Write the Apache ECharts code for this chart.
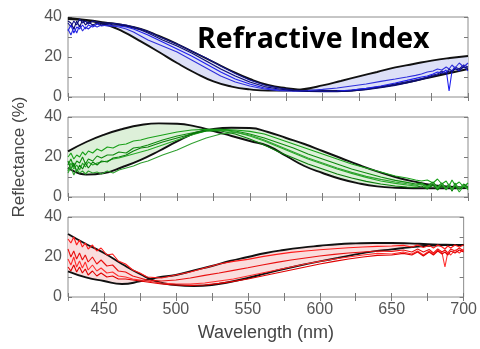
<!DOCTYPE html>
<html><head><meta charset="utf-8">
<script src="https://cdn.jsdelivr.net/npm/echarts@6/dist/echarts.min.js"></script>
<style>html,body{margin:0;padding:0;background:#fff}#c{width:480px;height:349px}</style>
</head><body><div id="c"></div>
<script>
// Envelope (model) curves grid, nm
const wlModel = [425,437.5,450,462.5,475,487.5,500,512.5,525,537.5,550,562.5,575,587.5,600,612.5,625,637.5,650,662.5,675,687.5,700];
// Panel 1 (blue) envelope curves
const blueA = [39,38.2,36.5,32.8,27.8,22.5,17,12,7.8,5.2,3.8,3.2,3.2,4,5.8,8,10.3,12.5,14.8,16.5,18.2,19.5,20.5];
const blueB = [39.5,38.5,37.3,36,34,30.5,26.5,22,17.5,13,9,6,4.4,3.5,3,3,3.6,4.8,6.3,8,10,12,14];
// Panel 2 (green) envelope curves
const greenC = [22.8,27.5,31.2,34,36,36.8,36.6,35.3,33,30.5,28,25.5,20.5,15.5,12,9,6.8,5.3,4.6,4.4,4.4,4.4,4.5];
const greenD = [14.6,11.2,12,15,18.6,23,27.8,32,34,34.6,34.5,32.5,29.5,26.5,23,19.5,16,12.8,10,7.8,6,5.2,4.7];
// Panel 3 (red) envelope curves
const redE = [31.5,26.5,22,16.5,11.5,7.5,6,5.5,6,7.5,9.5,11.8,14,16,17.8,19.5,21.3,22.8,23.8,24.8,25.6,26,26];
const redF = [12.8,9.8,8,6.5,7.8,9.8,11,13.3,15.5,18,20,22,23.5,24.7,25.6,26.4,26.8,27,27,26.8,26.4,26.1,26];

// Measured spectra wavelength grid, nm
const wlMeas = [425,427,429,431,433,435,437,439,442,445, 448,452,456,460,465,470,475,480,490,500, 510,520,530,540,550,560,570,580,590,600, 610,620,630,640,650,658,664,668,672,676, 679,682,685,687,689,691,694,697,700];
const blue1 = [37,35,38,36,39,37,38,36.5,38,37.5, 37,37,36.8,36.5,36,35,34,32.8,29.5,26.5, 23,19.5,15.5,11.8,8.5,6,4.5,3.5,3,2.8, 2.8,3.2,4,5,6.3,7.5,8.5,9.2,10,11, 11.5,13,12,14,13,15,14,16,15];
const blue2 = [33,36,32,35,34,36,34,36,35,36.5, 35.5,36,35.5,35.5,35,34,32.5,31,27.5,24, 20.5,16.5,12.5,9,6.5,4.5,3.5,3,2.8,2.8, 3,3.5,4.3,5.5,7,8.3,9.3,10,10.5,11.5, 12.5,12,13.5,3,13,14.5,13,15.5,13];
const blue3 = [34,31,35,32,36,33,35,34,36,35, 36,35.5,35.5,35,34,32.5,30.5,28.5,25.5,22.5, 18.5,14.5,10.5,7.5,5.5,4,3.2,3,3.2,3.8, 4.5,5.5,6.5,7.8,9,10,10.8,11.5,12.5,13, 14,13.5,15,14,16,14.5,17,15,17];
const blue4 = [38,37,34,38,35,38.5,36,37.5,36,37, 36,36.8,36,36,35.5,34.5,33.5,32,28.5,25.5, 22,18,14,10.5,7.5,5.2,4,3.2,2.8,2.6, 2.6,3,3.6,4.6,5.8,7,8,8.8,9.5,10.5, 11,12,11.5,13,12.5,14,13.5,15,14.5];
const green1 = [20,22,19,21,20,22.5,21,23,22,24, 23,25,24.5,26,26.5,28,28.5,29.5,31,32.5, 33.5,33.8,33.8,33.5,32.8,31.5,29,26.5,24,21.5, 19,16.5,14.5,12.5,10.5,9.5,8.5,8,8.5,7, 9,6.5,8,5.5,8.5,6,7.5,5,7];
const green2 = [16,19,15,18,17,20,16.5,19,18,20.5, 19.5,21,21,22.5,22,24.5,25,26,28.5,30.5, 32,33.3,33.6,33,31.5,29.5,27,24.5,21.5,19, 16.5,14,12,10,8.3,7.3,6.5,7,5.5,7.5, 5,7,4.5,6.5,3,7,4,6,4.5];
const green3 = [13,17,14,16,13.5,17,15,17.5,16,17, 17.5,18,19,19.5,20.5,21.5,22.5,23.5,26,28.5, 31,33,33.5,32.5,30.5,28,25,22,19,16.5, 14,11.8,9.8,8,6.8,6,5.5,6.5,4.5,6, 4,6.5,3.5,5.5,4,6,2.5,5.5,4];
const green4 = [18,14,17,12.5,16,14,17,14.5,17.5,16, 18,17.5,19.5,20,21,23,24.5,25,27.5,29.5, 31.5,33,33,31.5,29,26,22.5,19.5,16.5,14, 11.5,9.5,7.8,6.5,5.5,5,4.8,5.5,4,6, 3.5,5.5,4,6,3,5.5,4,6.5,5];
const green5 = [12,15,11,14,12,13,11.5,13,12,12.5, 11.5,13,12,13.5,14.5,15.5,17,18,21,23.5, 26.8,29.5,31.5,32.3,31,28.5,25.5,22.5,19.5,17, 14.5,12.3,10.3,8.8,7.5,6.6,6,6.5,5,7, 4.5,6.5,4,6.5,3.5,6,4.5,6,3.5];
const red1 = [29,27,30,26,28.5,25,27,24,26,23, 24.5,21,21.5,18,16.5,13.5,12,10,9.5,11, 12.5,14.5,16.5,17.8,18.8,20.2,21.3,22.3,23,23.6, 24.1,24.6,25,25.3,25.5,25.8,25,26,24.8,25.8, 24.5,26,25,24,25.5,24.5,26,25,26];
const red2 = [24,20,23,19,22,18.5,21,17.5,20,16.5, 18.5,15.5,16,13,12.5,10.5,9.5,8.5,8,8.5, 9.5,10.8,12,13.3,14.6,16,17.3,18.5,19.5,20.5, 21.3,22,22.5,23,22.8,23.5,22.5,24,22.5,23.8, 22,24,22.5,23.5,22,24,23,24.5,23];
const red3 = [19,16,20,15,18,14.5,17.5,13.5,16,13, 14.5,12,12.5,10.5,10,9,8.5,8,7,6.5, 6.5,7,8,9,10.5,12,13.5,15,16.5,17.8, 19,20,21,21.8,21.5,22.5,21.5,23,21,23, 21.5,23.5,22,15,22.5,21,23.5,22,24];
const red4 = [15,13,16,12.5,15,12,14,11,13,10.5, 12,10,10.5,9,9,8.5,8,7.5,6.5,6, 5.8,6,6.8,7.8,9,10.5,12,13.5,15,16.5, 17.8,19,20,20.8,21,21.8,21,22.5,20.5,22.5, 21,23,21.5,22.5,21,23,22,23.5,22.5];

const xTicks = {min:425, max:700, step:25, labelStep:50};
const yTicks = {min:0, max:40, step:10, labelStep:20};

const panels = [
  {env:[blueA, blueB], fill:'#dde0f7', lines:[blue1,blue2,blue3,blue4], colors:['#12128c','#1f1fee','#2f2fdc','#0c0c72']},
  {env:[greenC, greenD], fill:'#ddf0d9', lines:[green1,green2,green3,green4,green5], colors:['#18a018','#0e8a0e','#26aa26','#0a7d0a','#30a030']},
  {env:[redE, redF], fill:'#fadddd', lines:[red1,red2,red3,red4], colors:['#ff1a1a','#e81010','#ff2e2e','#e00000']}
];
const tops = [17,117,217];
const FONT = 'Liberation Sans, Arial, sans-serif';

const grid=[], xAxis=[], yAxis=[], series=[];
panels.forEach((p,i)=>{
  grid.push({left:68, top:tops[i], width:400, height:80, show:true, borderColor:'#8c8c8c', borderWidth:1, backgroundColor:'transparent'});
  const tick = {show:true, inside:true, length:4, lineStyle:{color:'#7a7a7a', width:1}};
  ['bottom','top'].forEach(pos=>{
    xAxis.push({type:'value', gridIndex:i, position:pos, min:xTicks.min, max:xTicks.max, interval:xTicks.step,
      axisLine:{show:false}, splitLine:{show:false}, axisTick:tick,
      axisLabel:{show: i===2 && pos==='bottom', formatter:v=> v%xTicks.labelStep===0 ? String(v) : '', fontSize:16, color:'#555', margin:5, fontFamily:FONT},
      name: (i===2 && pos==='bottom') ? 'Wavelength (nm)' : '', nameLocation:'middle', nameGap:27,
      nameTextStyle:{fontSize:18, color:'#444', fontFamily:FONT}});
  });
  ['left','right'].forEach(pos=>{
    yAxis.push({type:'value', gridIndex:i, position:pos, min:yTicks.min, max:yTicks.max, interval:yTicks.step,
      axisLine:{show:false}, splitLine:{show:false}, axisTick:tick,
      axisLabel:{show: pos==='left', formatter:v=> v%yTicks.labelStep===0 ? String(v) : '', fontSize:16, color:'#555', margin:6, fontFamily:FONT},
      name: (i===1 && pos==='left') ? 'Reflectance (%)' : '', nameLocation:'middle', nameGap:40, nameRotate:90,
      nameTextStyle:{fontSize:17, color:'#444', fontFamily:FONT}});
  });
  const xi = 2*i, yi = 2*i;
  const [A,B] = p.env;
  // shaded band between the two envelope curves, drawn through the axes' scales
  series.push({type:'custom', xAxisIndex:xi, yAxisIndex:yi, silent:true, z:1, data:[0],
    renderItem:(params, api)=>{
      const pts = [];
      wlModel.forEach((x,k)=>pts.push(api.coord([x, A[k]])));
      for (let k=wlModel.length-1;k>=0;k--) pts.push(api.coord([wlModel[k], B[k]]));
      return {type:'polygon', shape:{points:pts}, style:{fill:p.fill, stroke:null}};
    }});
  [A,B].forEach(c=>series.push({type:'line', xAxisIndex:xi, yAxisIndex:yi, smooth:true, symbol:'none', silent:true, z:2,
    lineStyle:{color:'#111', width:1.9}, data: wlModel.map((x,k)=>[x, c[k]])}));
  p.lines.forEach((l,j)=>series.push({type:'line', xAxisIndex:xi, yAxisIndex:yi, symbol:'none', silent:true, z:3,
    lineStyle:{color:p.colors[j], width:1.1}, data: wlMeas.map((x,k)=>[x, l[k]])}));
});

const chart = echarts.init(document.getElementById('c'), null, {renderer:'canvas'});
chart.setOption({
  animation:false, backgroundColor:'#fff',
  grid, xAxis, yAxis, series,
  graphic:[{type:'text', left:197, top:25, z:100,
    style:{text:'Refractive Index', font:'bold 28.5px "Open Sans"', fill:'#000'}}]
});
</script></body></html>
